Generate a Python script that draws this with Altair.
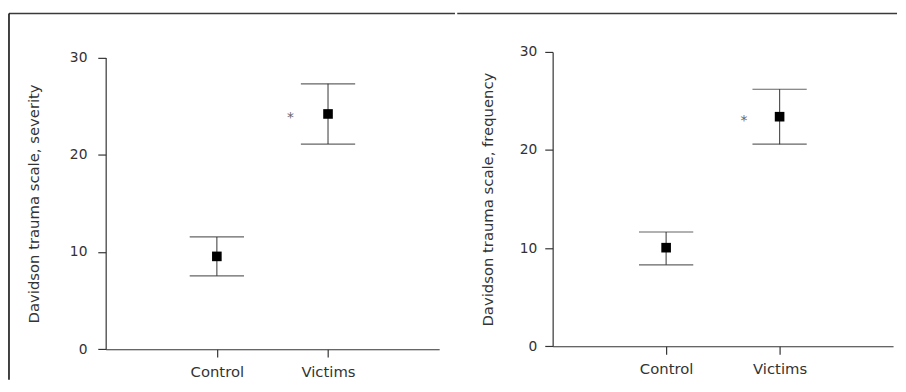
import altair as alt
import pandas as pd

groups = ["Control", "Victims"]
severity_mean = [9.55, 24.2]
severity_low = [7.55, 21.1]
severity_high = [11.55, 27.3]
frequency_mean = [10.05, 23.4]
frequency_low = [8.3, 20.6]
frequency_high = [11.65, 26.2]
significance = ["", "*"]

FONT = "DejaVu Sans"
TXT = "#333333"


def panel(mean, low, high, title, w, h, y_top, frame_left, frame_right, frame_top, left_line,
          title_pad, label_pad, star_dx):
    df = pd.DataFrame({"group": groups, "mean": mean, "low": low, "high": high, "sig": significance})
    base = alt.Chart(df)
    x = alt.X("group:N", sort=groups, scale=alt.Scale(type="point", padding=1),
              axis=alt.Axis(title=None, labelAngle=0, tickSize=8, labelPadding=8,
                            labelFontSize=15, labelFont=FONT, labelColor=TXT,
                            domainColor=TXT, tickColor=TXT, grid=False))
    yscale = alt.Scale(domain=[0, 30], nice=False, range=[h, y_top])
    y = alt.Y("mean:Q", scale=yscale,
              axis=alt.Axis(title=title, values=[0, 10, 20, 30], tickSize=8, grid=False,
                            labelPadding=label_pad, labelFontSize=14, labelFont=FONT,
                            labelColor=TXT, titleFontSize=15, titleFont=FONT,
                            titleFontWeight="normal", titleColor=TXT, titlePadding=title_pad,
                            domainColor=TXT, tickColor=TXT))
    bar = base.mark_rule(color="#555555", strokeWidth=1.2).encode(x=x, y=alt.Y("low:Q"), y2="high:Q")
    cap_lo = base.mark_tick(color="#222222", size=55, thickness=1.2).encode(x=x, y=alt.Y("low:Q"))
    cap_hi = base.mark_tick(color="#222222", size=55, thickness=1.2).encode(x=x, y=alt.Y("high:Q"))
    pts = base.mark_square(color="black", size=95, opacity=1).encode(x=x, y=y)
    star = base.mark_text(color="#666666", fill="#666666", fontSize=14, font=FONT, dx=star_dx, dy=4).encode(
        x=x, y=alt.Y("mean:Q"), text="sig:N")
    frame_data = alt.Data(values=[{"k": 1}])
    top = alt.Chart(frame_data).mark_rule(color="#3a3a3a", strokeWidth=1.5).encode(
        x=alt.value(frame_left), x2=alt.value(frame_right), y=alt.value(frame_top))
    layers = [top]
    if left_line:
        side = alt.Chart(frame_data).mark_rule(color="#111111", strokeWidth=1.6).encode(
            x=alt.value(frame_left), y=alt.value(frame_top), y2=alt.value(h + 31))
        layers.append(side)
    layers += [bar, cap_lo, cap_hi, pts, star]
    return alt.layer(*layers).properties(width=w, height=h)


left = panel(severity_mean, severity_low, severity_high, "Davidson trauma scale, severity",
             338, 301.3, 5.7, -98, 354, -39, True, 28, 11, -38)
right = panel(frequency_mean, frequency_low, frequency_high, "Davidson trauma scale, frequency",
              345, 298.3, 0, -96.7, 349, -39, False, 24, 8, -36)

chart = alt.hconcat(left, right, spacing=0).properties(
    padding={"left": 0, "top": 2, "right": 0, "bottom": 0}
).configure_view(stroke=None).configure_axis(domainWidth=1.2, tickWidth=1.2)

chart.save("out.html", embed_options={"renderer": "svg", "actions": False})
